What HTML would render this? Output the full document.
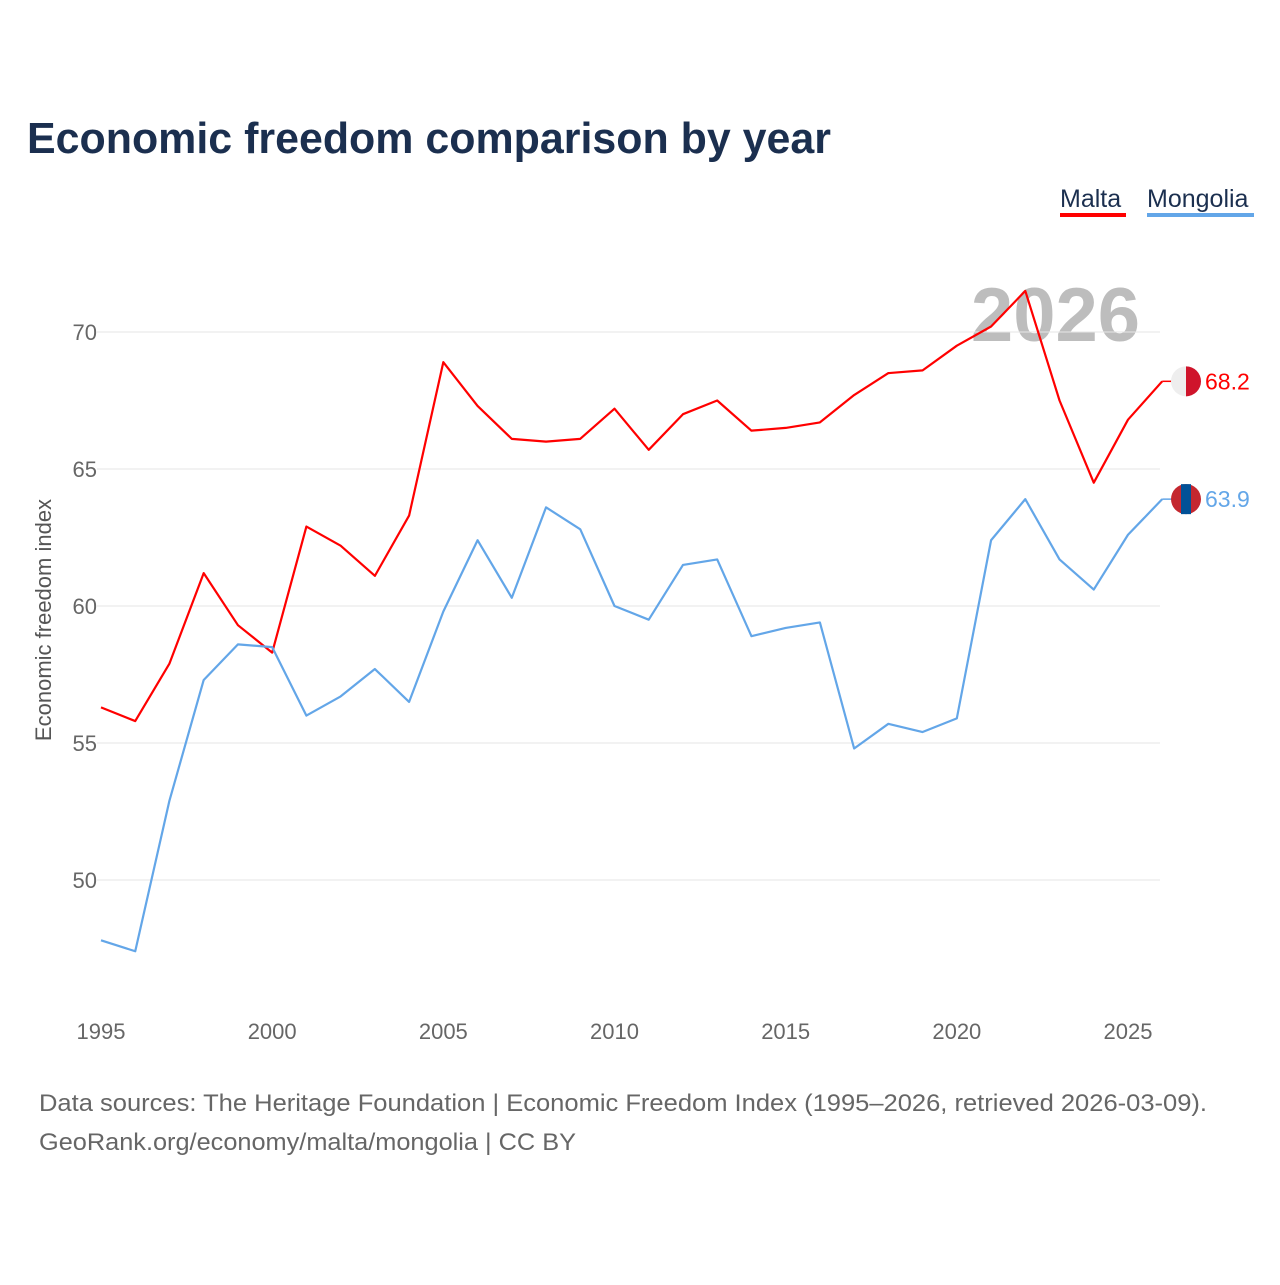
<!DOCTYPE html>
<html><head><meta charset="utf-8">
<style>
body{margin:0;background:#fff;font-family:"Liberation Sans",sans-serif;}
svg text{font-family:"Liberation Sans",sans-serif;}
</style></head>
<body>
<svg width="1280" height="1280" xmlns="http://www.w3.org/2000/svg">
<rect width="1280" height="1280" fill="#fff"/>
<text x="27" y="153" font-size="44" font-weight="bold" fill="#1b2f4f" textLength="804" lengthAdjust="spacingAndGlyphs">Economic freedom comparison by year</text>
<g>
<text x="1060" y="207" font-size="25" fill="#1b2f4f">Malta</text>
<rect x="1060" y="213" width="66" height="4" fill="#ff0000"/>
<text x="1147" y="207" font-size="25" fill="#1b2f4f">Mongolia</text>
<rect x="1147" y="213" width="107" height="4" fill="#63a6e8"/>
</g>
<text x="1140" y="341" font-size="76" font-weight="bold" fill="#bdbdbd" text-anchor="end">2026</text>
<g id="grid"></g><g id="xt"></g>
<text transform="translate(51,620) rotate(-90)" font-size="22" fill="#555" text-anchor="middle">Economic freedom index</text>
<g id="lines"></g>
<text x="39" y="1111" font-size="24" fill="#666" textLength="1168" lengthAdjust="spacingAndGlyphs">Data sources: The Heritage Foundation | Economic Freedom Index (1995–2026, retrieved 2026-03-09).</text>
<text x="39" y="1150" font-size="24" fill="#666" textLength="537" lengthAdjust="spacingAndGlyphs">GeoRank.org/economy/malta/mongolia | CC BY</text>
</svg>
<script>
const years=[1995,1996,1997,1998,1999,2000,2001,2002,2003,2004,2005,2006,2007,2008,2009,2010,2011,2012,2013,2014,2015,2016,2017,2018,2019,2020,2021,2022,2023,2024,2025,2026];
const malta=[56.3,55.8,57.9,61.2,59.3,58.3,62.9,62.2,61.1,63.3,68.9,67.3,66.1,66.0,66.1,67.2,65.7,67.0,67.5,66.4,66.5,66.7,67.7,68.5,68.6,69.5,70.2,71.5,67.5,64.5,66.8,68.2];
const mongolia=[47.8,47.4,52.9,57.3,58.6,58.5,56.0,56.7,57.7,56.5,59.8,62.4,60.3,63.6,62.8,60.0,59.5,61.5,61.7,58.9,59.2,59.4,54.8,55.7,55.4,55.9,62.4,63.9,61.7,60.6,62.6,63.9];
const yTicks=[50,55,60,65,70];
const xTicks=[1995,2000,2005,2010,2015,2020,2025];
const X=v=>101+(v-1995)*(1128-101)/30;
const Y=v=>332+(70-v)*27.4;
const NS="http://www.w3.org/2000/svg";
function mk(t,a,p){const e=document.createElementNS(NS,t);for(const k in a)e.setAttribute(k,a[k]);p.appendChild(e);return e;}
const g=document.getElementById('grid');
yTicks.forEach(v=>{
 const l=mk('line',{x1:97,x2:1160,y1:Y(v),y2:Y(v),stroke:'#e6e6e6','stroke-width':1},g);
 
 
 const t=mk('text',{x:97,y:Y(v)+8,'font-size':22,fill:'#666','text-anchor':'end'},g);t.textContent=v;
 
 
});
const xt=document.getElementById('xt');
xTicks.forEach(v=>{
 const t=mk('text',{x:X(v),y:1039,'font-size':22,fill:'#666','text-anchor':'middle'},xt);t.textContent=v;
 
 
});
const lg=document.getElementById('lines');
function series(d,c,name,flag){
 const p=mk('polyline',{points:d.map((v,i)=>X(years[i])+','+Y(v)).join(' '),fill:'none',stroke:c,'stroke-width':2.2,'stroke-linejoin':'round'},lg);
 
 
 const last=d[d.length-1],cx=1186,cy=Y(last);
 mk('line',{x1:X(2026),x2:cx-14,y1:cy,y2:cy,stroke:c,'stroke-width':1.5},lg);
 const f=mk('g',{},lg);
 
 
 if(flag==='mt'){mk('circle',{cx,cy,r:15,fill:'#eee'},f);mk('path',{d:`M${cx} ${cy-15} A15 15 0 0 1 ${cx} ${cy+15} Z`,fill:'#cf142b'},f);}
 else{mk('circle',{cx,cy,r:15,fill:'#c4272f'},f);mk('rect',{x:cx-5,y:cy-15,width:10,height:30,fill:'#015197'},f);}
 const t=mk('text',{x:1205,y:cy+8,'font-size':23,fill:c},lg);t.textContent=last.toFixed(1);
 
 
}
series(malta,'#ff0000','malta','mt');
series(mongolia,'#63a6e8','mongolia','mn');
</script>
</body></html>
